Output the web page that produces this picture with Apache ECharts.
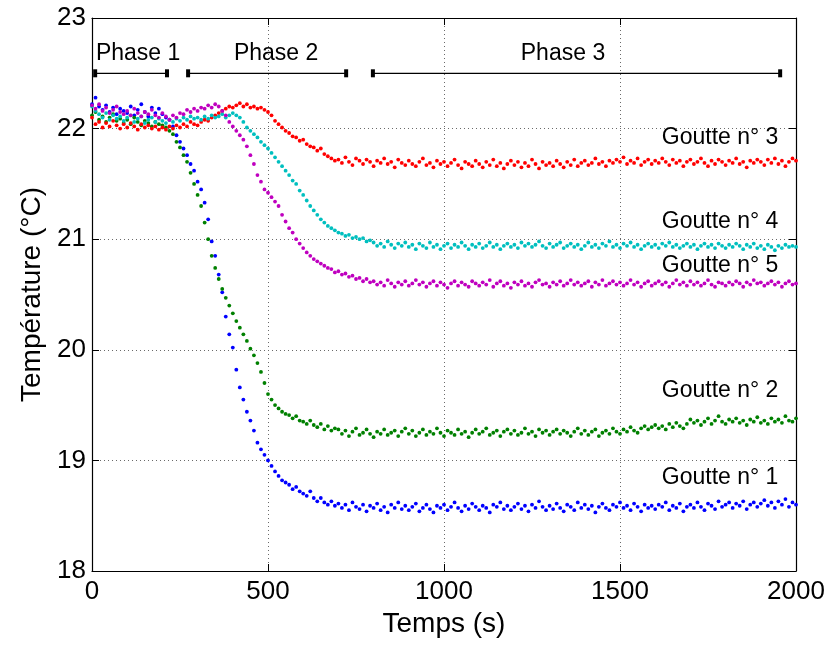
<!DOCTYPE html>
<html>
<head>
<meta charset="utf-8">
<script src="https://cdn.jsdelivr.net/npm/echarts@6/dist/echarts.min.js"></script>
<style>
html,body{margin:0;padding:0;background:#fff;}
#chart{width:835px;height:646px;}
</style>
</head>
<body>
<div id="chart"></div>
<script>
// Sample times (s)
const times = [
0,10,20,30,40,50,60,70,80,90,100,110,120,130,140,150,160,170,180,190,
200,210,220,230,240,250,260,270,280,290,300,310,320,330,340,350,360,370,380,390,
400,410,420,430,440,450,460,470,480,490,500,510,520,530,540,550,560,570,580,590,
600,610,620,630,640,650,660,670,680,690,700,710,720,730,740,750,760,770,780,790,
800,810,820,830,840,850,860,870,880,890,900,910,920,930,940,950,960,970,980,990,
1000,1010,1020,1030,1040,1050,1060,1070,1080,1090,1100,1110,1120,1130,1140,1150,1160,1170,1180,1190,
1200,1210,1220,1230,1240,1250,1260,1270,1280,1290,1300,1310,1320,1330,1340,1350,1360,1370,1380,1390,
1400,1410,1420,1430,1440,1450,1460,1470,1480,1490,1500,1510,1520,1530,1540,1550,1560,1570,1580,1590,
1600,1610,1620,1630,1640,1650,1660,1670,1680,1690,1700,1710,1720,1730,1740,1750,1760,1770,1780,1790,
1800,1810,1820,1830,1840,1850,1860,1870,1880,1890,1900,1910,1920,1930,1940,1950,1960,1970,1980,1990,
2000];

// Goutte n°1 (blue)
const goutte1 = [
22.22,22.28,22.20,22.17,22.21,22.15,22.19,22.13,22.18,22.16,
22.14,22.20,22.12,22.17,22.22,22.15,22.11,22.19,22.14,22.18,
22.13,22.10,22.08,22.02,21.94,21.88,21.82,21.76,21.68,21.62,
21.52,21.45,21.33,21.18,20.98,20.85,20.68,20.52,20.30,20.14,
20.02,19.82,19.66,19.55,19.44,19.36,19.27,19.16,19.10,19.05,
19.00,18.95,18.90,18.86,18.82,18.80,18.78,18.74,18.76,18.72,
18.70,18.68,18.72,18.66,18.63,18.66,18.62,18.60,18.63,18.59,
18.61,18.57,18.60,18.55,18.62,18.58,18.56,18.60,18.54,18.59,
18.57,18.61,18.55,18.58,18.53,18.60,18.57,18.62,18.56,18.59,
18.55,18.58,18.61,18.54,18.57,18.60,18.56,18.53,18.59,18.57,
18.60,18.55,18.58,18.62,18.57,18.54,18.59,18.56,18.61,18.58,
18.55,18.59,18.57,18.53,18.60,18.58,18.62,18.56,18.59,18.55,
18.58,18.61,18.56,18.59,18.54,18.60,18.57,18.63,18.58,18.55,
18.59,18.56,18.61,18.57,18.54,18.60,18.58,18.55,18.62,18.57,
18.60,18.56,18.59,18.53,18.58,18.61,18.57,18.55,18.60,18.58,
18.62,18.57,18.59,18.55,18.61,18.58,18.54,18.60,18.57,18.59,
18.56,18.60,18.58,18.62,18.55,18.59,18.57,18.61,18.54,18.58,
18.60,18.57,18.62,18.58,18.55,18.61,18.59,18.56,18.63,18.58,
18.60,18.62,18.57,18.61,18.59,18.63,18.56,18.60,18.62,18.58,
18.61,18.64,18.59,18.62,18.57,18.63,18.60,18.65,18.58,18.62,
18.60];

// Goutte n°2 (green)
const goutte2 = [
22.12,22.15,22.08,22.11,22.06,22.10,22.13,22.07,22.09,22.05,
22.08,22.04,22.10,22.06,22.03,22.07,22.05,22.02,22.06,22.04,
22.03,22.01,21.98,21.95,21.88,21.83,21.76,21.70,21.60,21.50,
21.40,21.30,21.15,21.00,20.85,20.74,20.64,20.55,20.47,20.40,
20.33,20.26,20.20,20.14,20.08,20.01,19.95,19.88,19.80,19.70,
19.60,19.55,19.50,19.47,19.44,19.42,19.41,19.38,19.40,19.36,
19.35,19.33,19.36,19.32,19.30,19.33,19.28,19.31,19.27,19.29,
19.28,19.24,19.27,19.22,19.26,19.29,19.23,19.25,19.28,19.24,
19.21,19.26,19.24,19.28,19.23,19.25,19.27,19.22,19.26,19.29,
19.24,19.27,19.22,19.25,19.28,19.23,19.26,19.24,19.29,19.25,
19.22,19.27,19.25,19.23,19.28,19.24,19.26,19.21,19.25,19.28,
19.24,19.26,19.29,19.23,19.25,19.27,19.22,19.26,19.28,19.24,
19.27,19.23,19.25,19.29,19.24,19.26,19.22,19.28,19.25,19.27,
19.23,19.26,19.28,19.24,19.27,19.25,19.22,19.26,19.29,19.24,
19.27,19.23,19.26,19.28,19.22,19.25,19.27,19.24,19.29,19.26,
19.24,19.28,19.26,19.30,19.27,19.25,19.29,19.31,19.28,19.30,
19.32,19.29,19.31,19.28,19.33,19.30,19.34,19.31,19.29,19.33,
19.37,19.34,19.36,19.32,19.35,19.38,19.33,19.36,19.40,19.35,
19.33,19.37,19.35,19.38,19.34,19.36,19.32,19.37,19.35,19.39,
19.34,19.36,19.33,19.38,19.35,19.37,19.34,19.40,19.36,19.35,
19.38];

// Goutte n°3 (red)
const goutte3 = [
22.10,22.04,22.06,22.01,22.05,22.02,22.07,22.03,22.00,22.04,
22.01,22.05,22.02,21.99,22.04,22.01,22.03,22.00,22.02,21.99,
22.01,21.99,22.02,22.00,22.03,22.01,22.04,22.02,22.06,22.04,
22.03,22.06,22.08,22.07,22.10,22.12,22.14,22.16,22.18,22.20,
22.19,22.21,22.23,22.20,22.22,22.19,22.20,22.18,22.19,22.17,
22.15,22.12,22.07,22.04,22.01,21.98,21.96,21.93,21.92,21.89,
21.90,21.86,21.84,21.83,21.80,21.82,21.77,21.75,21.73,21.71,
21.72,21.69,21.74,21.70,21.67,21.73,21.71,21.68,21.72,21.70,
21.66,21.71,21.69,21.73,21.68,21.70,21.65,21.72,21.69,21.67,
21.71,21.68,21.66,21.70,21.73,21.67,21.69,21.65,21.71,21.68,
21.70,21.66,21.69,21.72,21.67,21.64,21.70,21.68,21.66,21.71,
21.68,21.65,21.70,21.67,21.72,21.66,21.69,21.64,21.68,21.71,
21.67,21.70,21.65,21.69,21.66,21.72,21.68,21.64,21.70,21.67,
21.69,21.66,21.71,21.68,21.65,21.70,21.67,21.72,21.66,21.69,
21.71,21.67,21.69,21.73,21.68,21.70,21.66,21.71,21.69,21.72,
21.70,21.74,21.68,21.71,21.69,21.73,21.67,21.70,21.72,21.68,
21.71,21.69,21.73,21.70,21.67,21.72,21.69,21.71,21.66,21.70,
21.72,21.68,21.70,21.73,21.69,21.66,21.71,21.68,21.72,21.70,
21.67,21.71,21.69,21.73,21.68,21.70,21.65,21.71,21.69,21.72,
21.70,21.67,21.72,21.69,21.73,21.68,21.71,21.66,21.70,21.73,
21.71];

// Goutte n°4 (cyan)
const goutte4 = [
22.20,22.16,22.13,22.10,22.14,22.08,22.12,22.09,22.11,22.07,
22.10,22.12,22.06,22.09,22.11,22.05,22.08,22.10,22.06,22.09,
22.07,22.05,22.08,22.06,22.09,22.07,22.10,22.08,22.11,22.09,
22.10,22.08,22.11,22.09,22.12,22.10,22.11,22.13,22.10,22.12,
22.14,22.12,22.10,22.06,22.01,21.98,21.95,21.92,21.88,21.85,
21.82,21.78,21.74,21.70,21.66,21.62,21.58,21.53,21.50,21.44,
21.40,21.35,21.30,21.26,21.22,21.18,21.15,21.12,21.10,21.08,
21.06,21.05,21.03,21.04,21.01,21.02,21.00,21.01,20.98,20.99,
20.97,20.94,20.96,20.93,20.98,20.95,20.92,20.96,20.94,20.97,
20.93,20.95,20.91,20.96,20.94,20.92,20.97,20.93,20.95,20.91,
20.94,20.96,20.92,20.95,20.93,20.97,20.94,20.91,20.95,20.93,
20.96,20.92,20.94,20.97,20.93,20.95,20.91,20.94,20.96,20.93,
20.95,20.92,20.97,20.94,20.96,20.93,20.95,20.98,20.94,20.92,
20.96,20.93,20.95,20.97,20.92,20.94,20.96,20.93,20.95,20.91,
20.94,20.97,20.93,20.95,20.92,20.96,20.94,20.98,20.93,20.95,
20.92,20.96,20.94,20.97,20.93,20.95,20.91,20.94,20.96,20.93,
20.95,20.92,20.96,20.94,20.97,20.93,20.95,20.92,20.94,20.96,
20.93,20.95,20.91,20.94,20.96,20.93,20.95,20.92,20.96,20.94,
20.92,20.95,20.93,20.96,20.94,20.91,20.95,20.93,20.96,20.92,
20.94,20.91,20.95,20.93,20.90,20.94,20.92,20.95,20.93,20.94,
20.93];

// Goutte n°5 (magenta)
const goutte5 = [
22.21,22.18,22.22,22.16,22.19,22.14,22.17,22.20,22.15,22.13,
22.16,22.12,22.18,22.14,22.11,22.15,22.13,22.17,22.12,22.10,
22.14,22.11,22.08,22.12,22.10,22.14,22.13,22.17,22.15,22.18,
22.16,22.19,22.18,22.21,22.19,22.22,22.20,22.16,22.12,22.06,
22.02,21.98,21.94,21.90,21.84,21.76,21.68,21.58,21.52,21.45,
21.42,21.38,21.34,21.30,21.22,21.16,21.10,21.06,21.00,20.96,
20.92,20.88,20.85,20.82,20.80,20.78,20.76,20.74,20.73,20.70,
20.71,20.68,20.69,20.66,20.67,20.64,20.65,20.62,20.64,20.61,
20.62,20.59,20.61,20.58,20.63,20.60,20.57,20.61,20.59,20.62,
20.58,20.60,20.63,20.59,20.61,20.57,20.60,20.62,20.58,20.61,
20.59,20.56,20.60,20.62,20.58,20.61,20.59,20.57,20.62,20.60,
20.58,20.61,20.59,20.63,20.57,20.60,20.62,20.58,20.60,20.56,
20.61,20.59,20.62,20.58,20.60,20.57,20.61,20.63,20.59,20.60,
20.57,20.61,20.59,20.62,20.58,20.60,20.63,20.59,20.61,20.58,
20.60,20.62,20.57,20.61,20.59,20.63,20.58,20.60,20.62,20.59,
20.61,20.58,20.60,20.63,20.59,20.61,20.57,20.60,20.62,20.58,
20.60,20.62,20.59,20.61,20.57,20.60,20.63,20.59,20.61,20.58,
20.62,20.59,20.61,20.58,20.60,20.63,20.59,20.57,20.61,20.60,
20.58,20.61,20.59,20.62,20.60,20.57,20.61,20.59,20.63,20.60,
20.61,20.58,20.60,20.62,20.59,20.61,20.57,20.60,20.62,20.59,
20.60];

const seriesNames = ['Goutte n° 1','Goutte n° 2','Goutte n° 3','Goutte n° 4','Goutte n° 5'];
const seriesColors = ['#0000ff','#008000','#ff0000','#00bfbf','#bf00bf'];
const seriesValues = [goutte1, goutte2, goutte3, goutte4, goutte5];

// Curve labels: [time, temperature] anchor (right-aligned)
const labelTimes = [1950, 1950, 1950, 1950, 1950];
const labelTemps = [18.84, 19.63, 21.92, 21.16, 20.76];

// Phase brackets
const phaseNames = ['Phase 1', 'Phase 2', 'Phase 3'];
const phaseStart = [9, 273, 798];
const phaseEnd = [213, 722, 1955];
const phaseLabelTime = [131, 523, 1338];
const phaseBarTemp = 22.50;
const phaseLabelTemp = 22.68;

const xTicks = [0, 500, 1000, 1500, 2000];
const yTicks = [18, 19, 20, 21, 22, 23];

const FONT = '"Liberation Sans", Arial, Helvetica, sans-serif';

const chart = echarts.init(document.getElementById('chart'), null, {renderer: 'canvas'});

const series = [];
seriesValues.forEach((vals, i) => {
  series.push({
    name: seriesNames[i],
    type: 'scatter',
    xAxisIndex: 0, yAxisIndex: 0,
    symbol: 'circle',
    symbolSize: 3.8,
    itemStyle: {color: seriesColors[i], opacity: 1},
    data: times.map((t, k) => [t, vals[k]]),
    silent: true,
    animation: false,
    z: 2 + i
  });
});

const textLabel = {
  show: true,
  formatter: p => p.name,
  color: '#000000',
  opacity: 1,
  textBorderWidth: 0,
  fontFamily: FONT,
  fontSize: 23
};

// curve labels
series.push({
  type: 'scatter',
  xAxisIndex: 0, yAxisIndex: 0,
  symbolSize: 0,
  silent: true,
  animation: false,
  itemStyle: {opacity: 1, color: '#000'},
  data: seriesNames.map((n, i) => ({value: [labelTimes[i], labelTemps[i]], name: n})),
  label: Object.assign({}, textLabel, {position: 'left', distance: 0}),
  z: 10
});

// phase brackets
phaseNames.forEach((n, i) => {
  series.push({
    type: 'line',
    xAxisIndex: 0, yAxisIndex: 0,
    data: [[phaseStart[i], phaseBarTemp], [phaseEnd[i], phaseBarTemp]],
    symbol: 'rect',
    symbolSize: [4, 8],
    showSymbol: true,
    itemStyle: {color: '#000', opacity: 1},
    lineStyle: {color: '#000', width: 1.2},
    silent: true,
    animation: false,
    z: 10
  });
});
series.push({
  type: 'scatter',
  xAxisIndex: 0, yAxisIndex: 0,
  symbolSize: 0,
  silent: true,
  animation: false,
  itemStyle: {opacity: 1, color: '#000'},
  data: phaseNames.map((n, i) => ({value: [phaseLabelTime[i], phaseLabelTemp], name: n})),
  label: Object.assign({}, textLabel, {position: 'inside'}),
  z: 10
});

const gridLine = {show: true, lineStyle: {color: '#6a6a6a', type: [1, 3], width: 1}};

const option = {
  backgroundColor: '#fff',
  animation: false,
  grid: {left: 92, right: 39, top: 18, bottom: 75, containLabel: false},
  xAxis: [{
    type: 'value', min: xTicks[0], max: xTicks[xTicks.length - 1], interval: 500,
    position: 'bottom',
    axisLine: {show: true, onZero: false, lineStyle: {color: '#000', width: 1.2}},
    axisTick: {show: true, inside: true, length: 7, lineStyle: {color: '#000'}},
    axisLabel: {color: '#000', fontFamily: FONT, fontSize: 26, margin: 8, formatter: v => String(v)},
    splitLine: gridLine,
    name: 'Temps (s)', nameLocation: 'middle', nameGap: 36,
    nameTextStyle: {color: '#000', fontFamily: FONT, fontSize: 28}
  }, {
    type: 'value', min: xTicks[0], max: xTicks[xTicks.length - 1], interval: 500,
    position: 'top',
    axisLine: {show: true, onZero: false, lineStyle: {color: '#000', width: 1.2}},
    axisTick: {show: true, inside: true, length: 7, lineStyle: {color: '#000'}},
    axisLabel: {show: false},
    splitLine: {show: false}
  }],
  yAxis: [{
    type: 'value', min: yTicks[0], max: yTicks[yTicks.length - 1], interval: 1,
    position: 'left',
    axisLine: {show: true, onZero: false, lineStyle: {color: '#000', width: 1.2}},
    axisTick: {show: true, inside: true, length: 7, lineStyle: {color: '#000'}},
    axisLabel: {color: '#000', fontFamily: FONT, fontSize: 26, margin: 6, formatter: v => String(v)},
    splitLine: gridLine,
    name: 'Température (°C)', nameLocation: 'middle', nameGap: 46, nameRotate: 90,
    nameTextStyle: {color: '#000', fontFamily: FONT, fontSize: 28}
  }, {
    type: 'value', min: yTicks[0], max: yTicks[yTicks.length - 1], interval: 1,
    position: 'right',
    axisLine: {show: true, onZero: false, lineStyle: {color: '#000', width: 1.2}},
    axisTick: {show: true, inside: true, length: 7, lineStyle: {color: '#000'}},
    axisLabel: {show: false},
    splitLine: {show: false}
  }],
  series: series
};
chart.setOption(option);
</script>
</body>
</html>
